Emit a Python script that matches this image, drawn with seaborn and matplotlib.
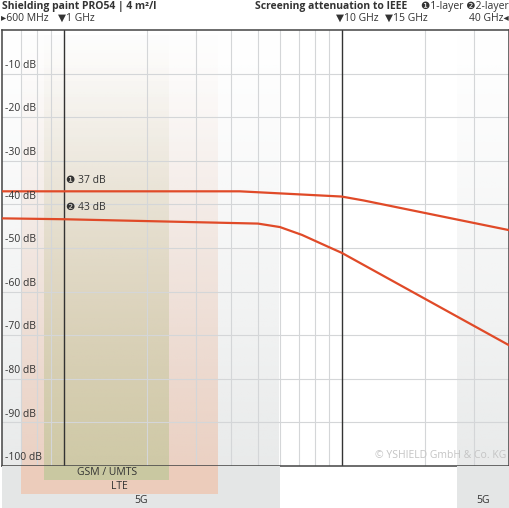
import numpy as np
import pandas as pd
import seaborn as sns
import matplotlib.pyplot as plt
from matplotlib.colors import to_rgb

# attenuation curves (frequency in MHz, attenuation in dB)
freq_1 = [600, 1000, 4300, 10000, 12000, 40000]
att_1 = [-37, -37, -37, -38.2, -39.1, -45.9]
freq_2 = [600, 1000, 5000, 6000, 7200, 9000, 10000, 40000]
att_2 = [-43.2, -43.4, -44.4, -45.2, -47.0, -49.8, -51.1, -72.3]

# mobile bands (MHz)
band_names = ['5G', 'LTE', 'GSM / UMTS', '5G']
band_start = [600, 700, 850, 26000]
band_end = [6000, 3600, 2400, 40000]

# axis
x_min, x_max = 600, 40000
y_ticks = [-10, -20, -30, -40, -50, -60, -70, -80, -90, -100]
marker_freqs = [1000, 10000, 15000]
marker_labels = ['1 GHz', '10 GHz', '15 GHz']

df = pd.DataFrame({
    'freq': freq_1 + freq_2,
    'att': att_1 + att_2,
    'layer': ['1'] * len(freq_1) + ['2'] * len(freq_2),
})

sns.set_style('white')
plt.rcParams['font.family'] = ['Open Sans', 'DejaVu Sans']

red = '#e04a28'
dark = '#333333'
band_colors = ['#e4e6e6', '#ecccbb', '#c9c8a1', '#e4e6e6']
band_rows = [0.0, 0.333, 0.667, 0.0]

fig = plt.figure(figsize=(5.10, 5.08), dpi=100)
ax = fig.add_axes([2 / 510, 42 / 508, 507 / 510, 436 / 508])
band_ax = fig.add_axes([2 / 510, 0, 507 / 510, 42 / 508], sharex=ax)
ax.set_xscale('log')

# fading band colours inside the plot
for name, f0, f1, col in zip(band_names, band_start, band_end, band_colors):
    rgba = np.zeros((256, 1, 4))
    rgba[:, 0, :3] = to_rgb(col)
    rgba[:, 0, 3] = np.linspace(0, 0.85, 256) ** 1.2
    ax.imshow(rgba, extent=(f0, f1, -100, 0), aspect='auto', origin='upper',
              zorder=0, interpolation='bilinear')

# grid
minor = [700, 800, 900] + [i * 1000 for i in range(2, 10)] + [20000, 30000]
for f in minor:
    ax.axvline(f, color='#d4d6d8', lw=0.8, zorder=1)
for v in y_ticks[:-1]:
    ax.axhline(v, color='#d4d6d8', lw=0.8, zorder=1)
for f in [1000, 10000]:
    ax.axvline(f, color=dark, lw=1.0, zorder=2)

sns.lineplot(data=df, x='freq', y='att', hue='layer', palette={'1': red, '2': red},
             estimator=None, lw=1.6, legend=False, ax=ax, zorder=3)

ax.set_xlim(x_min, x_max)
ax.set_ylim(-100, 0)
ax.set_xticks([])
ax.set_yticks([])
ax.minorticks_off()
ax.set_xlabel('')
ax.set_ylabel('')
for s in ax.spines.values():
    s.set_color('#444444')
    s.set_linewidth(1.1)

for v in y_ticks:
    ax.annotate(f'{v} dB', xy=(0, v), xycoords=('axes fraction', 'data'),
                xytext=(2, 2), textcoords='offset points', ha='left', va='bottom',
                fontsize=7.5, color=dark)

# value labels
ax.annotate(f'❶ {abs(att_1[0]):.0f} dB', xy=(1000, att_1[0]), xytext=(2, 4),
            textcoords='offset points', ha='left', va='bottom', fontsize=7.5, color=dark)
ax.annotate(f'❷ {abs(round(att_2[0])):.0f} dB', xy=(1000, att_2[0]), xytext=(2, 4),
            textcoords='offset points', ha='left', va='bottom', fontsize=7.5, color=dark)

ax.text(0.994, -98.5, '© YSHIELD GmbH & Co. KG', transform=ax.get_yaxis_transform(),
        ha='right', va='bottom', fontsize=7.5, color='#c4c4c4')
ax.texts[-1].set_transform(ax.transAxes)
ax.texts[-1].set_position((0.994, 0.012))

# frequency markers above the plot
for f, lab in zip(marker_freqs, marker_labels):
    ax.annotate('▼' + lab, xy=(f, 1), xycoords=('data', 'axes fraction'),
                xytext=(-4, 8.5), textcoords='offset points', ha='left', va='center',
                fontsize=7.5, color=dark)
ax.annotate('▸600 MHz', xy=(0, 1), xycoords='axes fraction', xytext=(-1, 8.5),
            textcoords='offset points', ha='left', va='center', fontsize=7.5, color=dark)
ax.annotate('40 GHz◂', xy=(1, 1), xycoords='axes fraction', xytext=(0, 8.5),
            textcoords='offset points', ha='right', va='center', fontsize=7.5, color=dark)

fig.text(2 / 510, 1 - 6 / 508, 'Shielding paint PRO54 | 4 m²/l', ha='left', va='center',
         fontsize=7.5, fontweight='bold', color=dark)
fig.text(407 / 510, 1 - 6 / 508, 'Screening attenuation to IEEE', ha='right', va='center',
         fontsize=7.5, fontweight='bold', color=dark)
fig.text(509 / 510, 1 - 6 / 508, '❶1-layer ❷2-layer', ha='right', va='center',
         fontsize=7.5, color=dark)

# band strip below the plot
for name, f0, f1, col, row in zip(band_names, band_start, band_end, band_colors, band_rows):
    band_ax.axvspan(f0, f1, ymin=row, ymax=1, color=col, lw=0)
    mid = np.sqrt(f0 * f1)
    band_ax.text(mid, row + 0.19, name, ha='center', va='center', fontsize=7.5,
                 color=dark, transform=band_ax.get_xaxis_transform())
band_ax.set_ylim(0, 1)
band_ax.axis('off')
ax.set_xlim(x_min, x_max)

fig.savefig('out.png', dpi=100)
